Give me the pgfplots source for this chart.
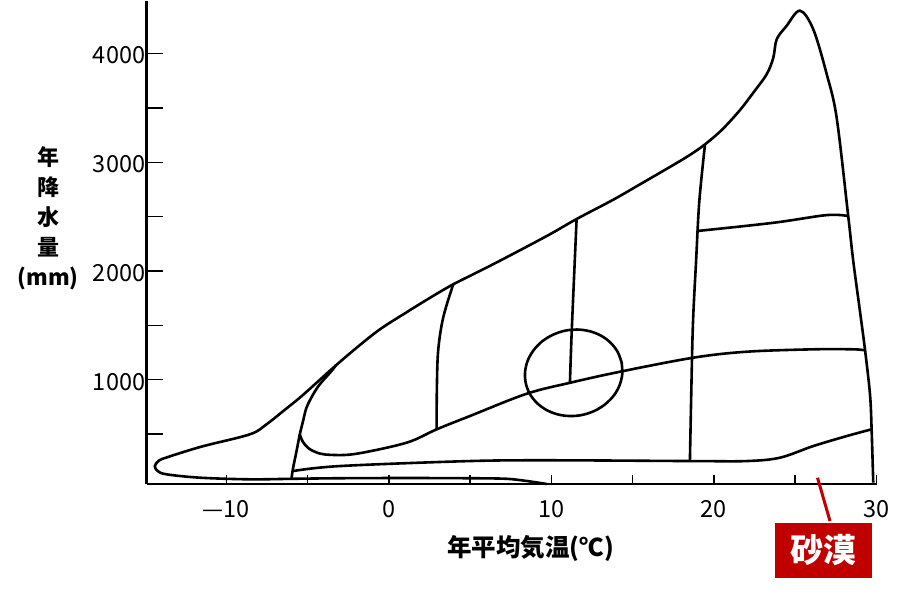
\documentclass[border=0pt]{standalone}
\usepackage{fontspec}
\setmainfont{Noto Sans CJK JP}
\usepackage{pgfplots}
\pgfplotsset{compat=1.18}
\definecolor{desertred}{RGB}{192,0,0}
\begin{document}
\begin{tikzpicture}
\begin{axis}[
  name=ax,
  scale only axis,
  width=729.8pt, height=482.6pt,
  xmin=-14.9, xmax=30, ymin=40, ymax=4480,
  axis lines=left,
  axis line style={-, line width=2.8pt, black},
  clip=false,
  tick align=inside,
  xtick={-10,0,10,20,30},
  xticklabels={—10,0,10,20,30},
  minor xtick={-5,5,15,25},
  ytick={1000,2000,3000,4000},
  yticklabels={1000,2000,3000,4000},
  minor ytick={500,1500,2500,3500},
  major tick length=16pt, minor tick length=16pt,
  xtick style={/pgfplots/major tick length=9pt,/pgfplots/minor tick length=9pt},
  tick style={line width=1.5pt, black},
  ticklabel style={font=\fontsize{23.5}{27}\selectfont},
  xticklabel style={yshift=-13pt},
  yticklabel style={xshift=2pt, yshift=-2pt},
  xlabel={年平均気温(℃)},
  xlabel style={at={(axis description cs:0.526,-0.1346)}, anchor=center, font=\bfseries\fontsize{24.5}{29}\selectfont},
  ylabel={年\\降\\水\\量\\(mm)},
  ylabel style={rotate=-90, align=center, at={(axis description cs:-0.1352,0.551)}, anchor=center, font=\bfseries\fontsize{22}{30}\selectfont},
  curve/.style={black, solid, line width=2.6pt, smooth, tension=0.55, mark=none},
]
% outer boundary
\addplot[curve] coordinates {
(9.72,40) (8.06,76) (6.83,90) (3.5,94) (0.68,95) (-3,93) (-5.89,88) (-8.55,83) (-11.63,98) (-13.68,129) (-14.22,159) (-14.40,205) (-14.15,255) (-13.6,288) (-11.5,385) (-8.55,497) (-7.53,589) (-6.50,711) (-5.48,834) (-4.45,971) (-3.43,1109) (-1.99,1293) (-0.55,1463) (1.09,1620) (2.52,1752) (3.96,1877) (6,2030) (8.06,2190) (10,2345) (11.55,2478) (13.8,2655) (15.45,2797) (17.5,2975) (18.6,3075) (19.45,3165) (20.5,3300) (21.6,3480) (22.42,3640) (23.24,3809) (23.65,3961) (23.86,4131) (24.46,4253) (25.29,4395) (26.11,4223) (26.94,3809) (27.55,3409) (28.26,2505) (28.57,2091) (28.98,1632) (29.29,1279) (29.60,865) (29.70,543) (29.80,52)
};
% tundra line
\addplot[curve] coordinates {
(-5.99,92) (-5.89,190) (-5.68,343) (-5.48,497) (-5.28,619) (-5.07,742) (-4.66,864) (-4.25,957) (-3.53,1079) (-3.25,1135)
};
% desert upper line
\addplot[curve] coordinates {
(-5.89,159) (-3.02,205) (4.98,251) (10.09,258) (18.71,251) (22.01,251) (24.06,282) (26.11,389) (28.17,481) (29.70,543)
};
% grassland / forest line
\addplot[curve] coordinates {
(-5.48,497) (-5.30,430) (-4.95,370) (-4.4,327) (-3.6,308) (-2.0,318) (1.09,420) (2.94,543) (4.98,665) (8.47,870) (11.14,971) (14.22,1073) (18.73,1202) (22.01,1257) (26.11,1279) (28.57,1279) (29.29,1270)
};
% vertical boreal / temperate
\addplot[curve] coordinates {
(3.96,1877) (3.34,1570) (3.03,1263) (2.95,895) (2.94,543)
};
% vertical temperate forest
\addplot[curve] coordinates {
(11.55,2478) (11.25,1447) (11.14,971)
};
% vertical tropical boundary
\addplot[curve] coordinates {
(19.45,3165) (19.1,2643) (18.9,2091) (18.73,1600) (18.65,1202) (18.52,251)
};
% upper right horizontal
\addplot[curve] coordinates {
(18.94,2367) (23.65,2443) (26.94,2514) (28.26,2505)
};
% ellipse
\addplot[curve] coordinates {
(14.32,1157) (14.08,1254) (13.65,1338) (13.07,1403) (12.37,1445) (11.60,1461) (10.82,1450) (10.08,1412) (9.42,1351) (8.90,1270) (8.54,1175) (8.38,1073) (8.42,969) (8.66,872) (9.09,788) (9.67,723) (10.37,681) (11.14,665) (11.92,676) (12.67,714) (13.32,775) (13.85,856) (14.20,951) (14.36,1053) (14.32,1157)
};
\draw[desertred, line width=3pt] (axis cs:26.37,98) -- (axis cs:27.14,-301);
\node[fill=desertred, text=white, minimum width=97pt, minimum height=55pt, inner sep=0pt, font=\bfseries\fontsize{33}{33}\selectfont] at (axis cs:26.73,-570) {砂漠};
\end{axis}
\path ([shift={(-146.7pt,-114pt)}]ax.south west) rectangle ([shift={(753.3pt,483pt)}]ax.south west);
\end{tikzpicture}
\end{document}
